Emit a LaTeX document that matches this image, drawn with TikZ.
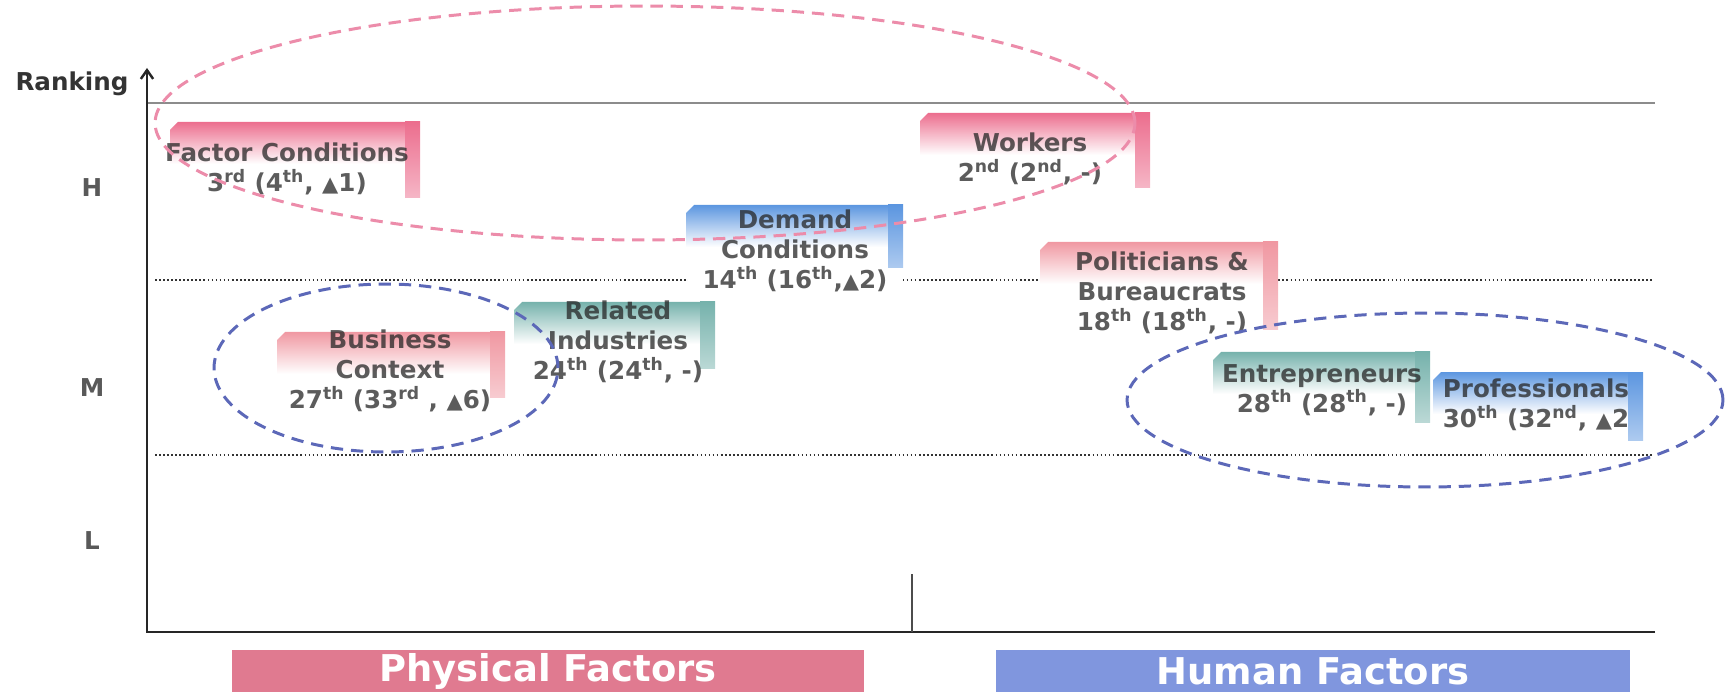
\documentclass[tikz,border=0pt]{standalone}
\usepackage{fontspec}
\setmainfont{DejaVu Sans}
\usetikzlibrary{arrows.meta}

\definecolor{rosepink}{RGB}{236,110,142}
\definecolor{palepink}{RGB}{240,152,162}
\definecolor{skyblue}{RGB}{92,150,224}
\definecolor{seateal}{RGB}{118,178,172}
\definecolor{physbar}{RGB}{224,122,144}
\definecolor{humbar}{RGB}{128,150,222}
\definecolor{ringpink}{RGB}{236,140,170}
\definecolor{ringblue}{RGB}{92,104,184}

\tikzset{
	lbl/.style={align=center, inner sep=0pt, text=black!85, text opacity=0.75, font=\bfseries\fontsize{14}{17}\selectfont},
	lvl/.style={text=black!65, font=\bfseries\fontsize{14}{16}\selectfont},
	bar/.style={text=white, inner sep=0pt, font=\bfseries\fontsize{21}{24}\selectfont},
	ring/.style={line width=1.7pt, dash pattern=on 7pt off 4.5pt},
	level line/.style={black!80, line width=1pt, dash pattern=on 1pt off 1.3pt},
}

% colour, left, top, right, bottom of side strip, bottom of blank area
\newcommand{\tabbox}[6]{%
	\fill[white] (#2,#3) rectangle (#4,#6);
	\shade[top color=#1, bottom color=white] (#2,#3+8) -- (#2+8,#3) -- (#4-15,#3) -- (#4-15,#3+42) -- (#2,#3+42) -- cycle;
	\shade[top color=#1, bottom color=#1!50] (#4-15,#3) rectangle (#4,#5);
}
\newcommand{\uptri}{{\fontsize{12}{12}\selectfont ▲}}

\begin{document}
\begin{tikzpicture}[x=0.02cm, y=-0.02cm]
	\useasboundingbox (0,0) rectangle (1730,692);

	% frame lines
	\draw[black!45, line width=0.8pt] (147,103) -- (1655,103);
	\draw[level line] (155,280) -- (1652,280);
	\draw[level line] (155,455) -- (1652,455);
	\draw[black!85, line width=1.4pt, -{Straight Barb[length=5pt,width=7pt]}] (1655,632) -- (147,632) -- (147,68);
	\draw[black!70, line width=0.8pt] (912,574) -- (912,632);

	\node[text=black!80, font=\bfseries\fontsize{14}{16}\selectfont] (rank) at (72,84) {Ranking};
	\node[lvl] (lh) at (92,188) {H};
	\node[lvl] (lm) at (92,388) {M};
	\node[lvl] (ll) at (92,541) {L};

	% factor boxes
	\tabbox{rosepink}{170}{122}{420}{198}{198}
	\tabbox{skyblue}{686}{205}{903}{268}{296}
	\tabbox{rosepink}{920}{113}{1150}{188}{188}
	\tabbox{palepink}{1040}{242}{1278}{330}{334}
	\tabbox{palepink}{277}{332}{505}{397}{414}
	\tabbox{seateal}{514}{302}{715}{368}{386}
	\tabbox{seateal}{1213}{352}{1430}{422}{420}
	\tabbox{skyblue}{1433}{372}{1643}{440}{440}

	\node[lbl] (fc) at (287,169) {Factor Conditions\\3\textsuperscript{rd} (4\textsuperscript{th}, \uptri1)};
	\node[lbl] (dc) at (795,251) {Demand\\Conditions\\14\textsuperscript{th} (16\textsuperscript{th},\uptri2)};
	\node[lbl] (wk) at (1030,159) {Workers\\2\textsuperscript{nd} (2\textsuperscript{nd}, -)};
	\node[lbl] (pb) at (1162,293) {Politicians \&\\Bureaucrats\\18\textsuperscript{th} (18\textsuperscript{th}, -)};
	\node[lbl] (bc) at (390,371) {Business\\Context\\27\textsuperscript{th} (33\textsuperscript{rd} , \uptri6)};
	\node[lbl] (ri) at (618,342) {Related\\Industries\\24\textsuperscript{th} (24\textsuperscript{th}, -)};
	\node[lbl] (en) at (1322,390) {Entrepreneurs\\28\textsuperscript{th} (28\textsuperscript{th}, -)};
	\node[lbl] (pr) at (1536,405) {Professionals\\30\textsuperscript{th} (32\textsuperscript{nd}, \uptri2};

	% groupings
	\draw[ring, ringpink] (645,123) ellipse [x radius=9.8cm, y radius=2.34cm];
	\draw[ring, ringblue] (386,368) ellipse [x radius=3.44cm, y radius=1.68cm];
	\draw[ring, ringblue] (1425,400) ellipse [x radius=5.96cm, y radius=1.74cm];

	\node[bar, fill=physbar, minimum width=12.66cm, minimum height=0.86cm] (phys) at (548,671) {Physical Factors};
	\node[bar, fill=humbar, minimum width=12.68cm, minimum height=0.86cm] (hum) at (1313,671) {Human Factors};
\end{tikzpicture}
\end{document}
